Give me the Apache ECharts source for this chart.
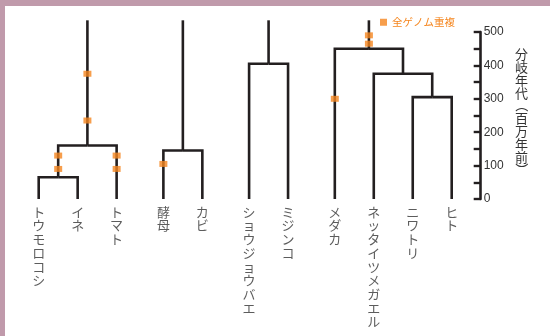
<!DOCTYPE html>
<html>
<head>
<meta charset="utf-8">
<script src="https://cdn.jsdelivr.net/npm/echarts@6/dist/echarts.min.js"></script>
<style>
  html, body { margin: 0; padding: 0; background: #fff; }
  #chart { width: 550px; height: 336px; }
</style>
</head>
<body>
<div id="chart"></div>
<script>
// Leaves of the tree, left to right, with the lineage group each belongs to
const species = ['トウモロコシ', 'イネ', 'トマト', '酵母', 'カビ', 'ショウジョウバエ', 'ミジンコ', 'メダカ', 'ネッタイツメガエル', 'ニワトリ', 'ヒト'];
const speciesGroup = [0, 0, 0, 1, 1, 2, 2, 3, 3, 3, 3];

// Internal nodes: their two children and divergence age (百万年前)
const cladeNames = ['イネ科', '植物', '菌類', '節足動物', '鳥類・哺乳類', '四肢動物', '脊椎動物'];
const cladeChildren = [
  ['トウモロコシ', 'イネ'],
  ['イネ科', 'トマト'],
  ['酵母', 'カビ'],
  ['ショウジョウバエ', 'ミジンコ'],
  ['ニワトリ', 'ヒト'],
  ['ネッタイツメガエル', '鳥類・哺乳類'],
  ['メダカ', '四肢動物']
];
const cladeAges = [65, 160, 145, 405, 305, 375, 450];
const stemTop = 535;

// Whole-genome duplications: branch (named by the node below it) and age
const wgdBranches = ['植物', '植物', 'イネ科', 'イネ科', 'トマト', 'トマト', '酵母', '脊椎動物', '脊椎動物', 'メダカ'];
const wgdAges = [375, 235, 130, 90, 130, 90, 105, 490, 465, 300];

const ageMin = 0, ageMax = 500, ageStep = 50, ageLabelStep = 100;
const axisTitle = '分岐年代（百万年前）';
const wgdName = '全ゲノム重複';

const ink = '#231f20';
const orange = '#f5861f';
const groupGap = 0.2;

// Horizontal slot of each node: leaves spaced by one unit plus a gap between groups,
// clades centred over their children
const nodeX = {}, nodeAge = {}, parentOf = {};
species.forEach((s, i) => { nodeX[s] = i + speciesGroup[i] * groupGap; nodeAge[s] = 0; });
cladeNames.forEach((c, i) => {
  cladeChildren[i].forEach(ch => { parentOf[ch] = c; });
});
cladeNames.forEach((c, i) => {
  const [a, b] = cladeChildren[i];
  nodeX[c] = (nodeX[a] + nodeX[b]) / 2;
  nodeAge[c] = cladeAges[i];
});
const xMax = nodeX[species[species.length - 1]];

// Branch segments: child -> elbow -> parent, or a stem up past the axis for roots
const branches = [];
species.concat(cladeNames).forEach(n => {
  const p = parentOf[n];
  if (p) branches.push([nodeX[n], nodeAge[n], nodeX[p], nodeAge[p]]);
  else branches.push([nodeX[n], nodeAge[n], nodeX[n], stemTop]);
});

const wgdPoints = wgdBranches.map((b, i) => [nodeX[b], wgdAges[i]]);
const leafPoints = species.map(s => ({ value: [nodeX[s], 0], name: s }));

// Vertical axis title: one glyph per line, brackets turned a quarter clockwise
const titleX = 521.5, titleTop = 48, titlePitch = 12.8;
const titleGlyphs = Array.from(axisTitle).map((ch, i) => {
  const turned = ch === '（' || ch === '）';
  return {
    type: 'text', silent: true,
    x: titleX, y: titleTop + titlePitch * (i + 0.5),
    rotation: turned ? -Math.PI / 2 : 0,
    style: {
      text: ch, fill: '#333', fontSize: 13, fontFamily: 'Noto Sans CJK JP',
      align: 'center', verticalAlign: 'middle'
    }
  };
});

const chart = echarts.init(document.getElementById('chart'), null, { renderer: 'canvas' });
chart.setOption({
  animation: false,
  grid: { left: 38.7, right: 98.3, top: 32, bottom: 137 },
  legend: {
    data: [wgdName],
    left: 380, top: 17,
    icon: 'rect', itemWidth: 7, itemHeight: 7,
    padding: 0,
    selectedMode: false,
    textStyle: { color: orange, fontSize: 10.5, fontFamily: 'Noto Sans CJK JP' }
  },
  xAxis: { type: 'value', min: 0, max: xMax, show: false },
  yAxis: {
    type: 'value', position: 'right', offset: 29,
    min: ageMin, max: ageMax, interval: ageStep,
    splitLine: { show: false },
    axisLine: { show: true, onZero: false, lineStyle: { color: ink, width: 2.6 } },
    axisTick: { show: true, inside: true, length: 7, lineStyle: { color: ink, width: 2.4 } },
    axisLabel: {
      margin: 3, color: '#333', fontSize: 12, fontFamily: 'Liberation Sans',
      formatter: v => (v % ageLabelStep === 0 ? String(v) : '')
    }
  },
  graphic: [
    { type: 'rect', shape: { x: 0, y: 0, width: 5, height: 336 }, style: { fill: '#c09aab' }, silent: true },
    { type: 'rect', shape: { x: 0, y: 0, width: 550, height: 6 }, style: { fill: '#c09aab' }, silent: true }
  ].concat(titleGlyphs),
  series: [
    {
      type: 'custom',
      clip: false,
      silent: true,
      encode: { x: [0, 2], y: [1, 3] },
      data: branches,
      renderItem(params, api) {
        const a = api.coord([api.value(0), api.value(1)]);
        const b = api.coord([api.value(0), api.value(3)]);
        const c = api.coord([api.value(2), api.value(3)]);
        return {
          type: 'polyline',
          shape: { points: [a, b, c] },
          style: { stroke: ink, lineWidth: 2.6, fill: null, lineJoin: 'miter', lineCap: 'butt' }
        };
      }
    },
    {
      type: 'scatter',
      silent: true,
      data: leafPoints,
      symbolSize: 0,
      label: {
        show: true, position: 'bottom', distance: 6,
        color: '#333', fontSize: 13, lineHeight: 13.7, fontFamily: 'Noto Sans CJK JP',
        formatter: p => Array.from(p.name).join('\n')
      }
    },
    {
      name: wgdName,
      type: 'scatter',
      silent: true,
      clip: false,
      z: 5,
      data: wgdPoints,
      symbol: 'rect',
      symbolSize: [8, 6],
      itemStyle: { color: orange }
    }
  ]
});
</script>
</body>
</html>
